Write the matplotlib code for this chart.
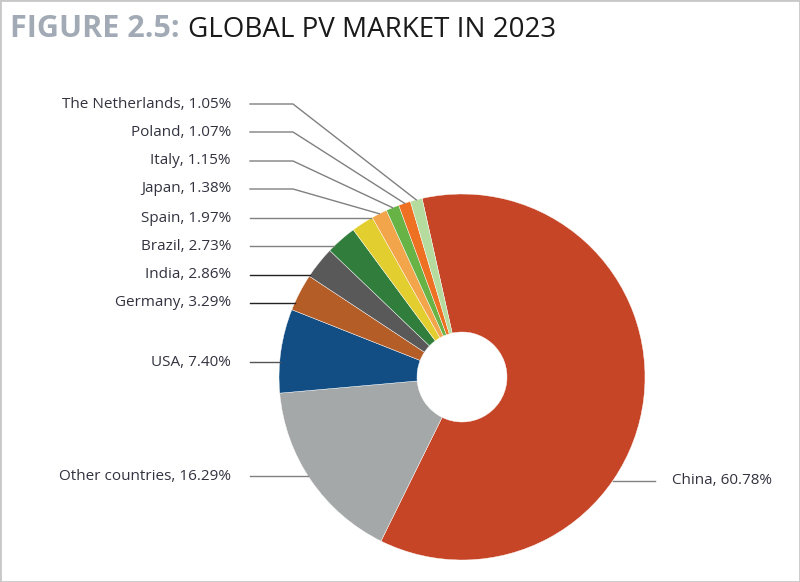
import numpy as np
import matplotlib.pyplot as plt
from matplotlib.patches import Rectangle

# --- DATA ---
countries = ["China", "Other countries", "USA", "Germany", "India", "Brazil",
             "Spain", "Japan", "Italy", "Poland", "The Netherlands"]
shares = [60.78, 16.29, 7.40, 3.29, 2.86, 2.73, 1.97, 1.38, 1.15, 1.07, 1.05]
colors = ["#C64526", "#A5A8A8", "#124E84", "#B55D26", "#595959", "#317D3C",
          "#E3CE30", "#F2A54A", "#67B346", "#EE7022", "#B6DB9E"]
# label rows, pixels from top of the image
label_rows = [481, 476, 362, 303, 275, 246, 218, 189, 161, 132, 104]
leader_colors = ["#808080", "#808080", "#555555", "#222222", "#222222", "#808080",
                 "#808080", "#808080", "#808080", "#808080", "#808080"]

W, H = 800, 582
cx, cy = 462, H - 377
R, hole = 183, 45

fig = plt.figure(figsize=(8, 5.82), dpi=100)
ax = fig.add_axes([0, 0, 1, 1])

wedges, _ = ax.pie(shares, colors=colors, startangle=102.6, counterclock=False,
                   center=(cx, cy), radius=R,
                   wedgeprops=dict(width=R - hole, edgecolor="white", linewidth=0.3))
ax.set_xlim(0, W)
ax.set_ylim(0, H)
ax.axis("off")

font = "Open Sans"
for w, name, val, row, lc in zip(wedges, countries, shares, label_rows, leader_colors):
    t1, t2 = w.theta1, w.theta2
    mid = np.deg2rad((t1 + t2) / 2)
    ly = H - row
    dy = ly - cy
    side = 1 if np.cos(mid) > 0 else -1
    dx = np.sqrt(max(R ** 2 - dy ** 2, 0))
    a = np.degrees(np.arctan2(dy, side * dx)) % 360
    inside = ((a - t1) % 360) <= (t2 - t1)
    x0 = 655 if side > 0 else 250
    if inside:
        xs = [x0, cx + side * dx]
        ys = [ly, ly]
    else:
        ex, ey = cx + R * np.cos(mid), cy + R * np.sin(mid)
        xs = [x0, 293, ex]
        ys = [ly, ly, ey]
    ax.plot(xs, ys, color=lc, lw=1)
    txt = f"{name}, {val:.2f}%"
    if side > 0:
        ax.text(672, ly, txt, ha="left", va="center", fontsize=11,
                color="#333340", family=font)
    else:
        ax.text(231, ly, txt, ha="right", va="center", fontsize=11,
                color="#333340", family=font)

# title
t = ax.text(10, H - 37, "FIGURE 2.5:", ha="left", va="baseline", fontsize=22,
            fontweight="bold", color="#A2ABB5", family=font)
fig.canvas.draw()
bb = t.get_window_extent()
ax.text(bb.x1 + 8, H - 37, "GLOBAL PV MARKET IN 2023", ha="left", va="baseline",
        fontsize=20, color="#1a1a1a", family=font)

fig.patches.append(Rectangle((0, 0), 1, 1, transform=fig.transFigure, fill=False,
                             edgecolor="#c8c8c8", linewidth=2))

fig.savefig("out.png", dpi=100)
